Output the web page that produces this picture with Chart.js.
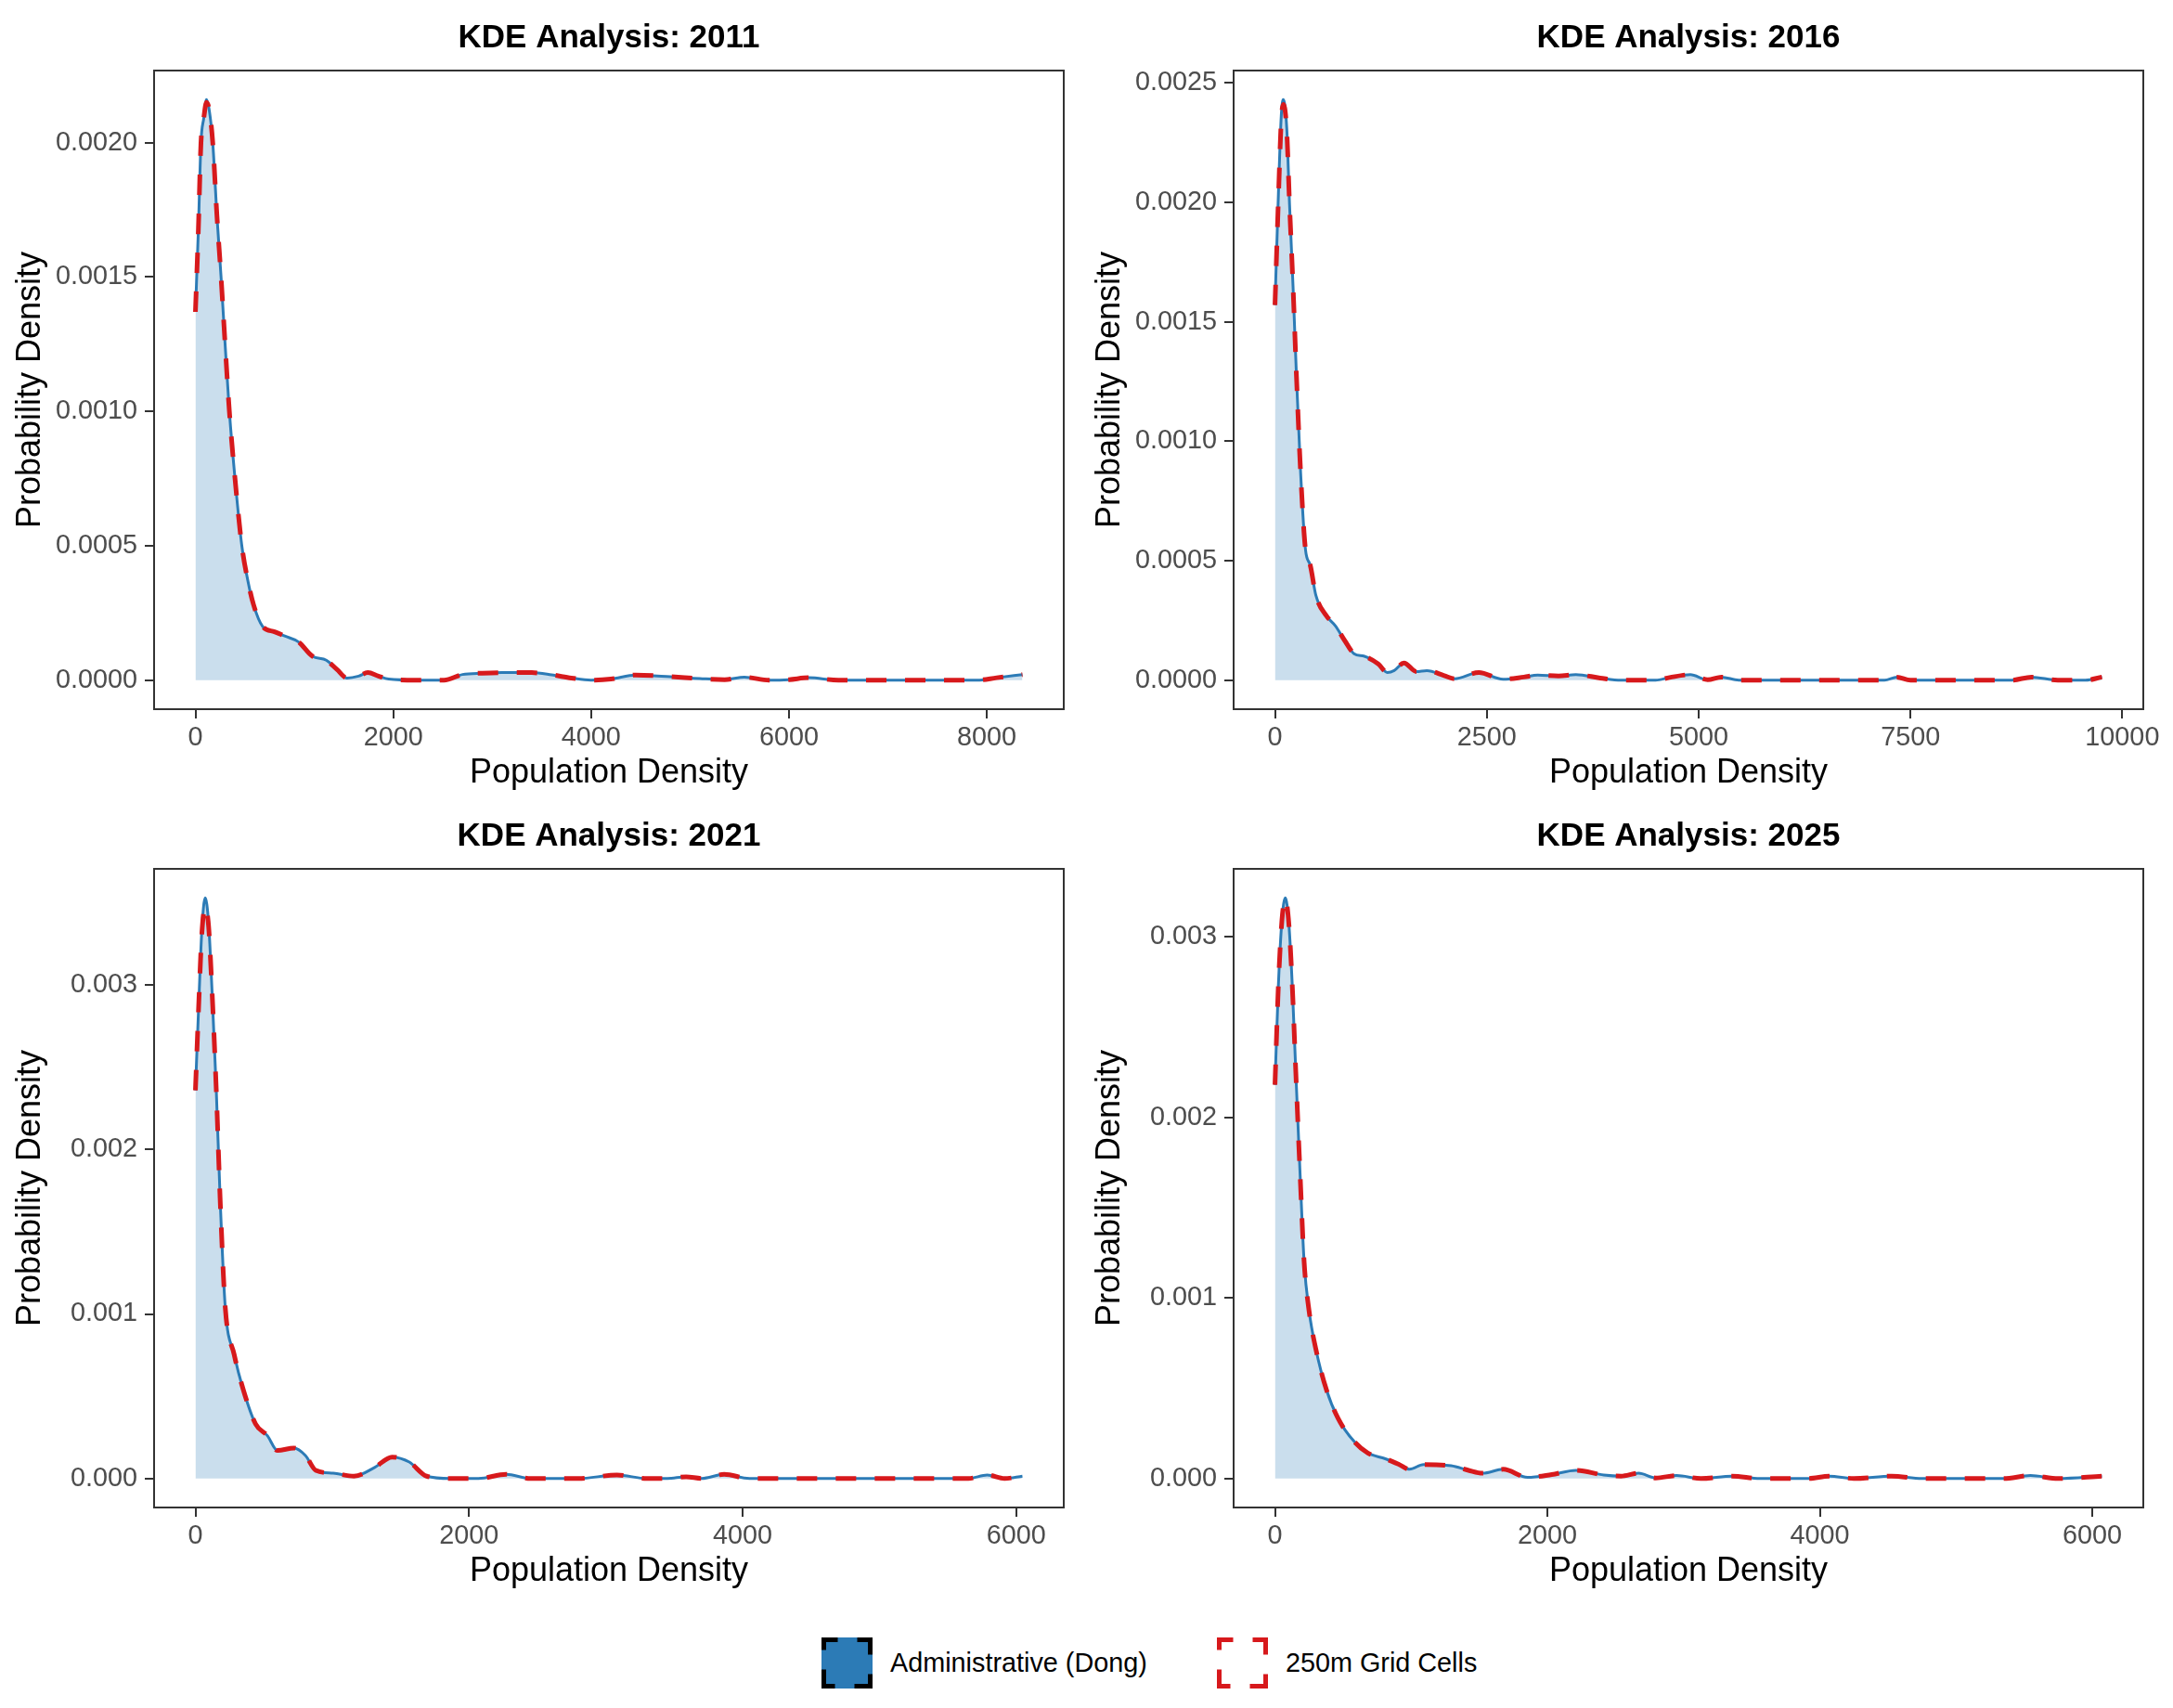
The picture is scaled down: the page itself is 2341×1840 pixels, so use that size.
<!DOCTYPE html>
<html>
<head>
<meta charset="utf-8">
<script src="https://cdn.jsdelivr.net/npm/chart.js@4.4.1/dist/chart.umd.min.js"></script>
<style>
  body { margin: 0; background: #fff; width: 2341px; height: 1840px; position: relative; overflow: hidden; font-family: "Liberation Sans", Arial, sans-serif; }
  canvas { position: absolute; }
  #legend { position: absolute; left: 885px; top: 1764px; height: 55px; display: flex; align-items: center; font-size: 28.8px; color: #000; }
  #legend canvas { position: static; }
  .lab { margin-left: 19px; margin-right: 75px; }
</style>
</head>
<body>
<canvas id="c2011" width="1170" height="860" style="left:0;top:0"></canvas>
<canvas id="c2016" width="1171" height="860" style="left:1170px;top:0"></canvas>
<canvas id="c2021" width="1170" height="860" style="left:0;top:860px"></canvas>
<canvas id="c2025" width="1171" height="860" style="left:1170px;top:860px"></canvas>
<div id="legend">
  <canvas id="k1" width="55" height="55"></canvas><span class="lab">Administrative (Dong)</span>
  <canvas id="k2" width="55" height="55"></canvas><span class="lab">250m Grid Cells</span>
</div>
<script>
// ---- data ----
const x2011 = [0, 30, 56, 84, 112, 140, 175, 217, 259, 300, 343, 400, 469, 530, 588, 679, 800, 903, 1043, 1183, 1323, 1430, 1533, 1650, 1743, 1850, 1953, 2233, 2513, 2700, 2900, 3100, 3400, 3600, 3800, 4000, 4200, 4450, 4800, 5100, 5350, 5550, 5800, 6000, 6200, 6500, 7000, 7500, 7900, 8100, 8360];
const adm2011 = [0.00137, 0.00168, 0.0020, 0.00209, 0.00216, 0.00212, 0.0020, 0.00173, 0.0015, 0.00125, 0.0010, 0.00075, 0.0005, 0.00037, 0.00028, 0.0002, 0.00018, 0.000164, 0.000142, 0.000089, 0.000074, 0.00004, 0.000008, 0.000015, 0.000028, 0.000015, 0.000004, 0, 0, 0.000021, 0.000026, 0.000028, 0.000028, 0.00002, 0.000008, 0, 0.000004, 0.000019, 0.000013, 0.000006, 0.000002, 0.000011, 0, 0.000002, 0.000009, 0, 0, 0, 0, 0.000009, 0.000021];
const grid2011 = [0.00137, 0.00168, 0.0020, 0.00209, 0.00215, 0.00212, 0.0020, 0.00173, 0.0015, 0.00125, 0.0010, 0.00075, 0.0005, 0.00037, 0.00028, 0.0002, 0.00018, 0.000164, 0.000142, 0.000089, 0.000074, 0.00004, 0.000008, 0.000015, 0.000028, 0.000015, 0.000004, 0, 0, 0.000021, 0.000026, 0.000028, 0.000028, 0.00002, 0.000008, 0, 0.000004, 0.000019, 0.000013, 0.000006, 0.000002, 0.000011, 0, 0.000002, 0.000009, 0, 0, 0, 0, 0.000009, 0.000021];

const x2016 = [0, 41, 74, 98, 139, 172, 213, 254, 303, 360, 417, 483, 605, 712, 826, 933, 1056, 1219, 1326, 1407, 1522, 1669, 1792, 1997, 2119, 2406, 2692, 2938, 3101, 3347, 3551, 3838, 4083, 4492, 4656, 4902, 5106, 5270, 5474, 6000, 7193, 7340, 7500, 8700, 8928, 9239, 9566, 9760];
const adm2016 = [0.00157, 0.00204, 0.00236, 0.00243, 0.00231, 0.00199, 0.00165, 0.00127, 0.000866, 0.000547, 0.00048, 0.000355, 0.00027, 0.000228, 0.000164, 0.000111, 0.0001, 0.000068, 0.000032, 0.00004, 0.000072, 0.000036, 0.00004, 0.000019, 0.000006, 0.000032, 0.000004, 0.000013, 0.000021, 0.000017, 0.000023, 0.000009, 0, 0, 0.000011, 0.000023, 0.000002, 0.000013, 0, 0, 0, 0.000013, 0, 0, 0.000013, 0, 0, 0.000013];
const grid2016 = [0.00157, 0.00202, 0.00234, 0.00241, 0.0023, 0.00199, 0.00165, 0.00127, 0.000866, 0.000547, 0.00048, 0.000355, 0.00027, 0.000228, 0.000164, 0.000111, 0.0001, 0.000068, 0.000032, 0.00004, 0.000072, 0.000036, 0.00004, 0.000019, 0.000006, 0.000032, 0.000004, 0.000013, 0.000021, 0.000017, 0.000023, 0.000009, 0, 0, 0.000011, 0.000023, 0.000002, 0.000013, 0, 0, 0, 0.000013, 0, 0, 0.000013, 0, 0, 0.000013];

const x2021 = [0, 25, 46, 71, 96, 121, 152, 182, 218, 283, 349, 440, 526, 600, 720, 804, 880, 1007, 1159, 1310, 1437, 1563, 1690, 1867, 2069, 2271, 2450, 2800, 3081, 3300, 3450, 3587, 3700, 3865, 4050, 5000, 5650, 5788, 5914, 6045];
const adm2021 = [0.00236, 0.0029, 0.00332, 0.00353, 0.00338, 0.00297, 0.00237, 0.00167, 0.00104, 0.000754, 0.000542, 0.000331, 0.00026, 0.00017, 0.000185, 0.00014, 0.000049, 0.000032, 0.000014, 0.000067, 0.00013, 0.0001, 0.000014, 0, 0, 0.000025, 0, 0, 0.000021, 0, 0, 0.00001, 0, 0.000025, 0, 0, 0, 0.000021, 0, 0.000014];
const grid2021 = [0.00236, 0.0029, 0.0033, 0.00348, 0.00336, 0.00297, 0.00237, 0.00167, 0.00104, 0.000754, 0.000542, 0.000331, 0.00026, 0.00017, 0.000185, 0.00014, 0.000049, 0.000032, 0.000014, 0.000067, 0.00013, 0.0001, 0.000014, 0, 0, 0.000025, 0, 0, 0.000021, 0, 0, 0.00001, 0, 0.000025, 0, 0, 0, 0.000021, 0, 0.000014];

const x2025 = [0, 25, 51, 76, 102, 127, 153, 183, 214, 250, 300, 377, 463, 581, 682, 810, 912, 988, 1090, 1294, 1421, 1523, 1676, 1854, 2032, 2210, 2414, 2541, 2669, 2796, 2949, 3127, 3356, 3560, 3916, 4069, 4250, 4527, 4750, 5350, 5546, 5750, 6071];
const adm2025 = [0.00218, 0.00273, 0.00309, 0.003215, 0.00307, 0.00273, 0.00225, 0.00171, 0.0012, 0.00093, 0.000717, 0.000493, 0.000333, 0.000205, 0.000141, 0.000109, 0.000077, 0.000051, 0.000077, 0.00007, 0.000045, 0.000029, 0.000051, 0.000006, 0.000022, 0.000045, 0.000019, 0.000013, 0.000029, 0.000003, 0.000016, 0, 0.000013, 0, 0, 0.000013, 0, 0.000013, 0, 0, 0.000016, 0, 0.000013];
const grid2025 = [0.00218, 0.00273, 0.00309, 0.00321, 0.00307, 0.00273, 0.00225, 0.00171, 0.0012, 0.00093, 0.000717, 0.000493, 0.000333, 0.000205, 0.000141, 0.000109, 0.000077, 0.000051, 0.000077, 0.00007, 0.000045, 0.000029, 0.000051, 0.000006, 0.000022, 0.000045, 0.000019, 0.000013, 0.000029, 0.000003, 0.000016, 0, 0.000013, 0, 0, 0.000013, 0, 0.000013, 0, 0, 0.000016, 0, 0.000013];

// tick values / labels
const xTicks2011 = [0, 2000, 4000, 6000, 8000];
const xTicks2016 = [0, 2500, 5000, 7500, 10000];
const xTicks2021 = [0, 2000, 4000, 6000];
const xTicks2025 = [0, 2000, 4000, 6000];
const yTicks2011 = [0, 0.0005, 0.001, 0.0015, 0.002];
const yLabels2011 = ["0.0000", "0.0005", "0.0010", "0.0015", "0.0020"];
const yTicks2016 = [0, 0.0005, 0.001, 0.0015, 0.002, 0.0025];
const yLabels2016 = ["0.0000", "0.0005", "0.0010", "0.0015", "0.0020", "0.0025"];
const yTicks2021 = [0, 0.001, 0.002, 0.003];
const yLabels2021 = ["0.000", "0.001", "0.002", "0.003"];
const yTicks2025 = [0, 0.001, 0.002, 0.003];
const yLabels2025 = ["0.000", "0.001", "0.002", "0.003"];

const BLUE = "#2C7BB6";
const RED = "#D7191C";
const FONT = '"Liberation Sans", Arial, sans-serif';

// frame round the panel + title centred over the plot area
const framePlugin = {
  id: "frame",
  afterDraw(chart, args, opts) {
    const ctx = chart.ctx, a = chart.chartArea;
    ctx.save();
    ctx.strokeStyle = "#333333";
    ctx.lineWidth = 2;
    ctx.strokeRect(a.left, a.top, a.right - a.left, a.bottom - a.top);
    ctx.fillStyle = "#000";
    ctx.font = "bold 35px " + FONT;
    ctx.textAlign = "center";
    ctx.textBaseline = "middle";
    ctx.fillText(opts.text, (a.left + a.right) / 2, 41.5);
    ctx.restore();
  }
};

function makePanel(id, title, xs, adm, grid, xTicks, yTicks, yLabels, leftW, rightPad) {
  const xmax = xs[xs.length - 1];
  const ymax = Math.max(...adm, ...grid);
  const pts = arr => xs.map((x, i) => ({x: x, y: arr[i]}));
  new Chart(document.getElementById(id), {
    type: "line",
    data: {
      datasets: [{
        data: pts(grid),
        borderColor: RED,
        borderWidth: 5,
        borderDash: [22, 20],
        fill: false,
        cubicInterpolationMode: "monotone",
        pointRadius: 0,
        order: 0
      }, {
        data: pts(adm),
        borderColor: BLUE,
        borderWidth: 3,
        backgroundColor: "rgba(44,123,182,0.25)",
        fill: "origin",
        cubicInterpolationMode: "monotone",
        pointRadius: 0,
        order: 1
      }]
    },
    options: {
      responsive: false,
      devicePixelRatio: 1,
      animation: false,
      layout: {padding: {top: 76, right: rightPad, bottom: 0, left: 0}},
      plugins: {
        legend: {display: false},
        tooltip: {enabled: false},
        frame: {text: title}
      },
      scales: {
        x: {
          type: "linear",
          min: -0.05 * xmax,
          max: 1.05 * xmax,
          afterBuildTicks: s => { s.ticks = xTicks.map(v => ({value: v})); },
          afterFit: s => { s.height = 96; },
          grid: {drawOnChartArea: false, drawTicks: true, tickLength: 10, color: "#333333", lineWidth: 2},
          border: {display: true, color: "#333333", width: 2},
          ticks: {color: "#4D4D4D", font: {family: FONT, size: 28.8}, padding: 4, maxRotation: 0,
                  callback: v => String(v)},
          title: {display: true, text: "Population Density", color: "#000",
                  font: {family: FONT, size: 36}, padding: {top: 0, bottom: 5}}
        },
        y: {
          type: "linear",
          min: -0.05 * ymax,
          max: 1.05 * ymax,
          afterBuildTicks: s => { s.ticks = yTicks.map(v => ({value: v})); },
          afterFit: s => { s.width = leftW; },
          grid: {drawOnChartArea: false, drawTicks: true, tickLength: 10, color: "#333333", lineWidth: 2},
          border: {display: true, color: "#333333", width: 2},
          ticks: {color: "#4D4D4D", font: {family: FONT, size: 28.8}, padding: 8,
                  callback: (v, i) => yLabels[i]},
          title: {display: true, text: "Probability Density", color: "#000",
                  font: {family: FONT, size: 36}, padding: {top: leftW - 155, bottom: 0}}
        }
      }
    },
    plugins: [framePlugin]
  });
}

makePanel("c2011", "KDE Analysis: 2011", x2011, adm2011, grid2011, xTicks2011, yTicks2011, yLabels2011, 166, 24);
makePanel("c2016", "KDE Analysis: 2016", x2016, adm2016, grid2016, xTicks2016, yTicks2016, yLabels2016, 159, 32);
makePanel("c2021", "KDE Analysis: 2021", x2021, adm2021, grid2021, xTicks2021, yTicks2021, yLabels2021, 166, 24);
makePanel("c2025", "KDE Analysis: 2025", x2025, adm2025, grid2025, xTicks2025, yTicks2025, yLabels2025, 159, 32);

// legend keys: square with dashed outline, dashes sitting on the corners
function drawKey(id, fill, stroke) {
  const ctx = document.getElementById(id).getContext("2d");
  if (fill) { ctx.fillStyle = fill; ctx.fillRect(0, 0, 55, 55); }
  ctx.strokeStyle = stroke;
  ctx.lineWidth = 5;
  ctx.setLineDash([30, 21]);
  ctx.lineDashOffset = 15;
  ctx.strokeRect(2.5, 2.5, 50, 50);
}
drawKey("k1", BLUE, "#000");
drawKey("k2", null, RED);
</script>
</body>
</html>
